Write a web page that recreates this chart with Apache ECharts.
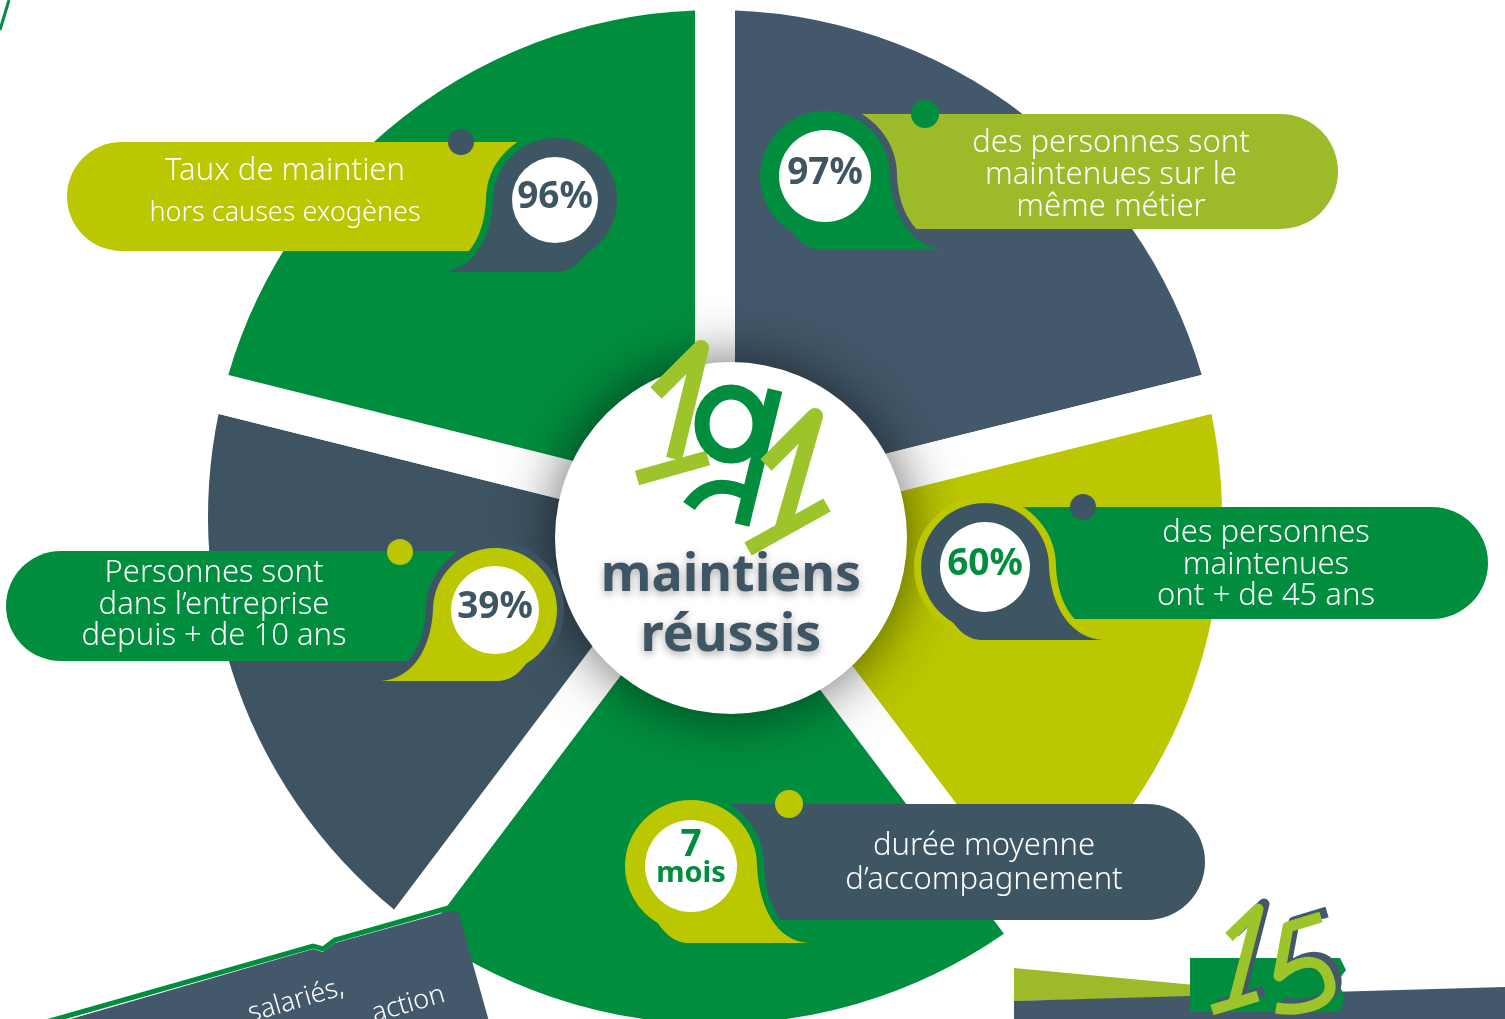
<!DOCTYPE html>
<html lang="fr">
<head>
  <meta charset="utf-8">
  <script src="https://cdn.jsdelivr.net/npm/echarts@6/dist/echarts.min.js"></script>
  <style>
    html, body { margin: 0; background: #fff; }
    #chart { width: 1505px; height: 1019px; }
  </style>
</head>
<body>
<div id="chart"></div>
<script>
  // slices clockwise from the top (angular sizes, in degrees)
  var sliceNames = ['97%', '60%', '7 mois', '39%', '96%'];
  var sliceValues = [76, 67, 74, 67, 76];
  var statLabels = ['97%', '60%', '7\nmois', '39%', '96%'];
  var captions = [
    ['des personnes sont', 'maintenues sur le', 'même métier'],
    ['des personnes', 'maintenues', 'ont + de 45 ans'],
    ['durée moyenne', 'd’accompagnement'],
    ['Personnes sont', 'dans l’entreprise', 'depuis + de 10 ans'],
    ['Taux de maintien', 'hors causes exogènes']
  ];
  var totalCaption = ['maintiens', 'réussis'];
  var ribbonText = ['salariés,', 'action'];

  var GREEN = '#008E3E', DARK = '#3E5563', SLATE = '#43586A', LIME = '#BBC700', LIGHT = '#9DBA2B', BRUSH = '#9DC52B';
  var sliceColors = [SLATE, LIME, GREEN, '#3E5463', GREEN];
  var FONT = "'Noto Sans', 'DejaVu Sans', sans-serif";
  var G = 7; // gap between bubble and pill

  // callout layout, same order as the slices
  var callouts = [
    {cx: 825, cy: 176, r: 65, tip: [121, 74], wr: 46, bubble: GREEN, pill: LIGHT, pillX: 1338, pillY: 114, pillH: 115, dot: [925, 114, 14], stat: DARK, textX: 1111, lineY: [143, 175, 207], fs: [31, 31, 31]},
    {cx: 985, cy: 567, r: 64, tip: [118, 73], wr: 45, bubble: DARK, pill: GREEN, pillX: 1488, pillY: 507, pillH: 112, dot: [1083, 507, 13], stat: GREEN, textX: 1266, lineY: [533, 565, 596], fs: [31, 31, 31]},
    {cx: 691, cy: 866, r: 66, tip: [117, 77], wr: 46, bubble: LIME, pill: DARK, pillX: 1205, pillY: 804, pillH: 116, dot: [789, 804, 14], stat: GREEN, textX: 984, lineY: [846, 880], fs: [31, 31]},
    {cx: 495, cy: 610, r: 62, tip: [-114, 71], wr: 44, bubble: LIME, pill: GREEN, pillX: 6, pillY: 551, pillH: 110, dot: [400, 552, 13], stat: DARK, textX: 214, lineY: [573, 605, 636], fs: [31, 31, 31]},
    {cx: 555, cy: 200, r: 62, tip: [-113, 72], wr: 43, bubble: DARK, pill: LIME, pillX: 67, pillY: 142, pillH: 109, dot: [461, 142, 13], stat: DARK, textX: 285, lineY: [171, 213], fs: [31, 27]}
  ];

  function bubblePath(r, tx, ty) {
    var a = (0.5 * r).toFixed(1), b = (0.866 * r).toFixed(1);
    if (tx < 0) {
      return 'M ' + (-r) + ' 0 A ' + r + ' ' + r + ' 0 1 1 ' + a + ' ' + b +
        ' C ' + (0.3 * r) + ' ' + ty + ' ' + (0.1 * r) + ' ' + ty + ' 0 ' + ty +
        ' L ' + tx + ' ' + ty +
        ' C ' + (tx + 0.6 * (-r - tx)) + ' ' + (ty - 2) + ' ' + (-r - 2) + ' ' + (ty * 0.55) + ' ' + (-r) + ' 0 Z';
    }
    return 'M ' + r + ' 0 A ' + r + ' ' + r + ' 0 1 0 ' + (-a) + ' ' + b +
      ' C ' + (-0.3 * r) + ' ' + ty + ' ' + (-0.1 * r) + ' ' + ty + ' 0 ' + ty +
      ' L ' + tx + ' ' + ty +
      ' C ' + (tx - 0.6 * (tx - r)) + ' ' + (ty - 2) + ' ' + (r + 2) + ' ' + (ty * 0.55) + ' ' + r + ' 0 Z';
  }

  // graphic has no plain "path" type, so each svg path becomes a registered shape
  var shapeId = 0;
  function pathEl(d, z, x, y, style) {
    var name = 'svgPath' + (shapeId++);
    echarts.graphic.registerShape(name, echarts.graphic.extendPath(d, {}));
    return {type: name, z: z, x: x || 0, y: y || 0, silent: true, style: style};
  }

  function txt(s, x, y, size, color, weight, z, extra) {
    var st = {text: s, fill: color, fontSize: size, fontFamily: FONT, fontWeight: weight || 'normal',
      align: 'center', verticalAlign: 'middle'};
    for (var k in (extra || {})) st[k] = extra[k];
    return {type: 'text', z: z || 40, x: x, y: y, silent: true, style: st};
  }

  function stroke(d, color, w, z, x, y) {
    return pathEl(d, z, x, y, {fill: 'none', stroke: color, lineWidth: w, lineJoin: 'round', lineCap: 'butt'});
  }

  var els = [];

  // center disc
  els.push({type: 'circle', z: 10, silent: true, shape: {cx: 731, cy: 538, r: 176},
    style: {fill: '#fff', shadowBlur: 60, shadowColor: 'rgba(0,0,0,0.6)'}});

  // brush "191"
  els.push(stroke('M 656 393 L 701 348 L 674 459', BRUSH, 16, 11));
  els.push(stroke('M 637 478 L 708 458', BRUSH, 15, 11));
  els.push(stroke('M 760 424 A 29 32 0 1 1 702 424 A 29 32 0 1 1 760 424 Z', GREEN, 15, 12));
  els.push(stroke('M 775 390 L 742 525', GREEN, 15, 12));
  els.push(stroke('M 746 493 Q 710 476 689 506', GREEN, 14, 12));
  els.push(stroke('M 766 465 L 815 416 L 782 531', BRUSH, 16, 13));
  els.push(stroke('M 748 549 L 827 505', BRUSH, 15, 13));

  var capShadow = {textShadowBlur: 8, textShadowColor: 'rgba(0,0,0,0.35)', textShadowOffsetY: 3};
  els.push(txt(totalCaption[0], 731, 576, 52, DARK, 'bold', 14, capShadow));
  els.push(txt(totalCaption[1], 731, 636, 52, DARK, 'bold', 14, capShadow));

  callouts.forEach(function (c, i) {
    var left = c.tip[0] < 0;
    var dy = c.cy - c.pillY;
    var dx = Math.sqrt(Math.pow(c.r + G, 2) - dy * dy);
    var hh = c.pillH / 2, x1, x2, rr;
    if (left) { x1 = c.pillX; x2 = c.cx - dx + 1; rr = [hh, 0, 0, hh]; }
    else { x1 = c.cx + dx - 1; x2 = c.pillX; rr = [0, hh, hh, 0]; }
    els.push({type: 'rect', z: 30, silent: true, shape: {x: x1, y: c.pillY, width: x2 - x1, height: c.pillH, r: rr}, style: {fill: c.pill}});
    var d = bubblePath(c.r, c.tip[0], c.tip[1]);
    els.push(pathEl(d, 31, c.cx, c.cy, {fill: sliceColors[i], stroke: sliceColors[i], lineWidth: 2 * G, lineJoin: 'round'}));
    els.push(pathEl(d, 32, c.cx, c.cy, {fill: c.bubble}));
    els.push({type: 'circle', z: 33, silent: true, shape: {cx: c.cx, cy: c.cy, r: c.wr}, style: {fill: '#fff'}});
    els.push({type: 'circle', z: 33, silent: true, shape: {cx: c.dot[0], cy: c.dot[1], r: c.dot[2]}, style: {fill: c.bubble}});

    var parts = statLabels[i].split('\n');
    if (parts.length > 1) {
      els.push(txt(parts[0], c.cx, c.cy - 21, 37, c.stat, 'bold'));
      els.push(txt(parts[1], c.cx, c.cy + 8, 29, c.stat, 'bold'));
    } else {
      els.push(txt(parts[0], c.cx, c.cy - 3, 37, c.stat, 'bold'));
    }
    captions[i].forEach(function (line, k) {
      els.push(txt(line, c.textX, c.lineY[k], c.fs[k], '#fff', 300));
    });
  });

  // bottom left ribbon
  els.push({type: 'polygon', z: 30, silent: true, shape: {points: [[50, 1025], [313, 949], [323, 952], [335, 943], [450, 911], [458, 911], [490, 1025]]}, style: {fill: SLATE}});
  els.push({type: 'polyline', z: 31, silent: true, shape: {points: [[46, 1022], [313, 946], [323, 949], [335, 940], [452, 907]]}, style: {stroke: GREEN, lineWidth: 5, fill: 'none'}});
  els.push({type: 'text', z: 32, x: 347, y: 1000, rotation: 0.28, silent: true,
    style: {text: ribbonText[0], fill: '#fff', fontSize: 27, fontFamily: FONT, fontWeight: 300, align: 'right', verticalAlign: 'bottom'}});
  els.push({type: 'text', z: 32, x: 448, y: 1007, rotation: 0.28, silent: true,
    style: {text: ribbonText[1], fill: '#fff', fontSize: 27, fontFamily: FONT, fontWeight: 300, align: 'right', verticalAlign: 'bottom'}});

  // bottom right stripes and brush "15"
  els.push({type: 'polygon', z: 30, silent: true, shape: {points: [[1014, 968], [1195, 985], [1195, 997], [1014, 1001]]}, style: {fill: LIGHT}});
  els.push({type: 'polygon', z: 30, silent: true, shape: {points: [[1014, 1001], [1505, 987], [1505, 1025], [1014, 1025]]}, style: {fill: SLATE}});
  els.push({type: 'polygon', z: 31, silent: true, shape: {points: [[1190, 958], [1340, 958], [1346, 970], [1337, 982], [1345, 996], [1340, 1012], [1190, 1012]]}, style: {fill: GREEN}});
  var fifteen = ['M 1229 937 L 1258 909 L 1233 1006', 'M 1212 1010 L 1258 996',
    'M 1321 917 L 1288 927 L 1279 976 C 1300 958 1325 955 1330 984 C 1333 1005 1300 1012 1276 1008'];
  fifteen.forEach(function (p) { els.push(stroke(p, SLATE, 11, 32, 6, -5)); });
  fifteen.forEach(function (p) { els.push(stroke(p, BRUSH, 11, 33)); });

  // corner mark
  els.push({type: 'polyline', z: 30, silent: true, shape: {points: [[0, 30], [9, 0]]}, style: {stroke: GREEN, lineWidth: 3, fill: 'none'}});

  var chart = echarts.init(document.getElementById('chart'));
  chart.setOption({
    animation: false,
    backgroundColor: '#fff',
    series: [{
      type: 'pie',
      center: [715, 517],
      radius: [0, 527],
      startAngle: 90,
      clockwise: true,
      silent: true,
      label: {show: false},
      labelLine: {show: false},
      itemStyle: {borderColor: '#fff', borderWidth: 40},
      data: sliceNames.map(function (n, i) {
        return {name: n, value: sliceValues[i], itemStyle: {color: sliceColors[i]}};
      })
    }],
    graphic: {elements: els}
  });
</script>
</body>
</html>
